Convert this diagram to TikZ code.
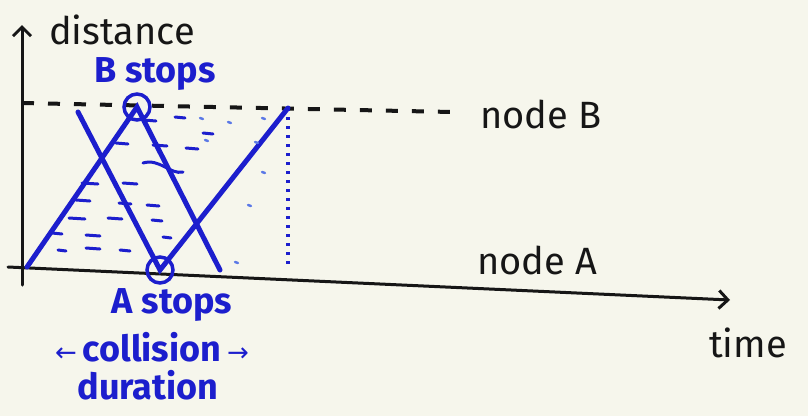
\documentclass[tikz,border=0pt]{standalone}
\usepackage{fontspec}
\setmainfont{Fira Sans}
\newfontfamily\arrowfont{DejaVu Sans}
\usetikzlibrary{arrows.meta}
\definecolor{paper}{RGB}{246,246,236}
\definecolor{ink}{RGB}{22,22,22}
\definecolor{blueink}{RGB}{28,30,205}
\definecolor{lightink}{RGB}{90,120,230}
\begin{document}
\begin{tikzpicture}[x=1pt,y=-1pt,
  axis/.style={draw=ink,line width=3pt,line cap=round},
  tip/.style={-{Straight Barb[length=9pt,width=18pt,line width=3pt]}},
  track/.style={draw=blueink,line width=5pt,line cap=round},
  level/.style={draw=ink,line width=4pt,dash pattern=on 12pt off 14pt},
  guide/.style={draw=blueink,line width=3.5pt,dash pattern=on 3pt off 6pt},
  ring/.style={draw=blueink,line width=3.5pt,circle,minimum size=26pt,inner sep=0pt},
  hatch/.style={draw=blueink,line width=3pt,line cap=round},
  faint/.style={draw=lightink,line width=2.5pt,line cap=round},
  blab/.style={text=blueink,font=\bfseries\fontsize{36}{38}\selectfont,inner sep=0pt},
  klab/.style={text=ink,font=\fontsize{38}{40}\selectfont,inner sep=0pt},
]
\fill[paper] (0,0) rectangle (808,416);
\useasboundingbox (0,0) rectangle (808,416);

% axes
\coordinate (yb) at (22,285);
\coordinate (yt) at (22,25);
\coordinate (xl) at (8,267);
\coordinate (xr) at (730,300);
\draw[axis,tip] (yb) -- (yt);
\draw[axis,tip] (xl) -- (xr);

% level of node B
\coordinate (lv0) at (22,103);
\coordinate (lv1) at (452,112);
\draw[level] (lv0) -- (lv1);

% stop markers
\node[ring] (bstop) at (137,107) {};
\node[ring] (astop) at (160,270) {};

% tracks
\coordinate (p1) at (27,267);
\coordinate (p3) at (78,112);
\coordinate (p2) at (220,270);
\coordinate (p4) at (288,108);
\coordinate (pb) at (288,268);
\draw[track] (p1) -- (bstop.center) -- (p2);
\draw[track] (p3) -- (astop.center) -- (p4);
\draw[guide] (p4) -- (pb);

% water hatching
\foreach \x/\y/\w in {122/143/6,160/145/7,192/148/6,208/133/5,90/183/8,130/183/7,
  83/200/7,125/203/6,153/205/6,77/218/8,115/218/7,157/220/5,57/233/5,93/235/7,
  167/237/4,62/250/4,93/248/7,125/250/5,150/120/6,180/117/5}
  \draw[hatch] (\x-\w,\y) -- (\x+\w,\y+1);
\draw[hatch] (143,163) .. controls (160,158) and (170,175) .. (183,172);
\foreach \x/\y in {200/118,228/122,262/118,205/140,255/142,262/172,248/205,235/262}
  \draw[faint] (\x,\y) -- (\x+3,\y+1);

% labels
\node[klab] (dist) at (122,30) {distance};
\node[blab] (bs) at (155,74) {B stops};
\node[blab] (as) at (172,305) {A stops};
\node[blab] (col) at (152,347) {{\arrowfont\mdseries\fontsize{26}{28}\selectfont ←}\,collision\,{\arrowfont\mdseries\fontsize{26}{28}\selectfont →}};
\node[blab] (dur) at (148,385) {duration};
\node[klab] (nb) at (541,114) {node B};
\node[klab] (na) at (537,260) {node A};
\node[klab] (tm) at (748,343) {time};
\end{tikzpicture}
\end{document}
